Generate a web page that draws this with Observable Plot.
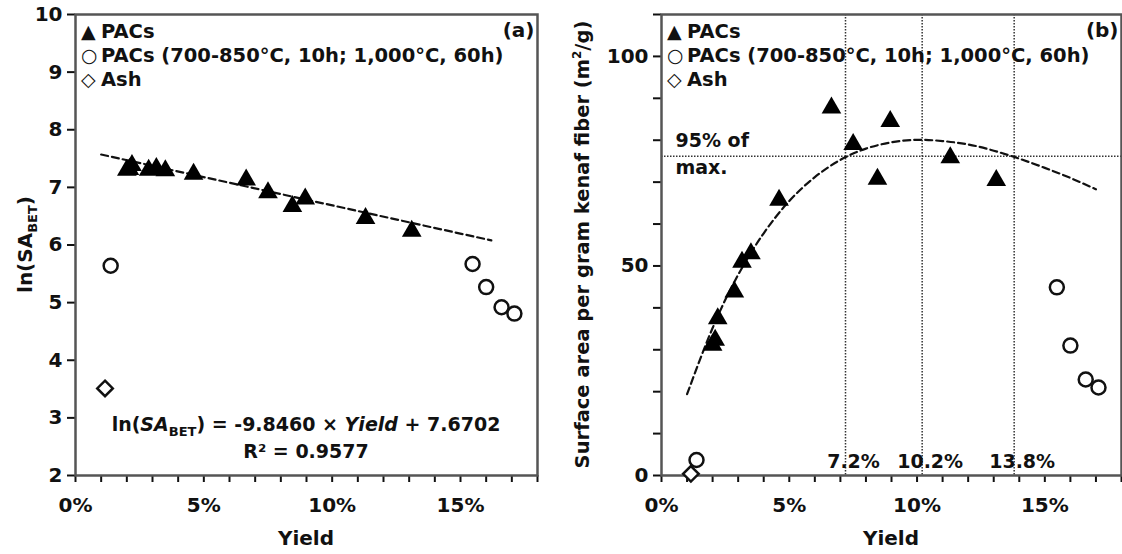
<!DOCTYPE html>
<html><head><meta charset="utf-8">
<script src="https://cdn.jsdelivr.net/npm/d3@7"></script>
<script src="https://cdn.jsdelivr.net/npm/@observablehq/plot@0.6"></script>
<style>
html,body{margin:0;padding:0;background:#fff;}
#wrap{display:flex;width:1122px;height:554px;overflow:hidden;}
#wrap svg{flex:none;}
</style></head><body><div id="wrap"></div>
<script>
// ---- data (yield in %) ----
const pacYield        = [2.0, 2.1, 2.2, 2.85, 3.15, 3.5, 4.6, 6.65, 7.5, 8.45, 8.95, 11.3, 13.1];
const pacLnSA         = [7.35, 7.36, 7.43, 7.35, 7.38, 7.34, 7.28, 7.18, 6.96, 6.72, 6.85, 6.51, 6.29];
const pacSAperFiber   = [31.8, 33.0, 38.1, 44.5, 51.6, 53.6, 66.4, 88.4, 79.7, 71.4, 85.2, 76.5, 71.1];
const longYield       = [1.37, 15.47, 16.0, 16.6, 17.1];
const longLnSA        = [5.64, 5.67, 5.27, 4.92, 4.81];
const longSAperFiber  = [3.7, 44.9, 31.0, 22.9, 21.0];
const ashYield        = [1.15];
const ashLnSA         = [3.51];
const ashSAperFiber   = [0.4];
const fitLineYield    = [1.0, 16.2];
const fitLineLnSA     = [7.57, 6.08];
const fitCurveYield   = [1, 2, 3, 4, 5, 6, 7, 8, 9, 10, 11, 12, 13, 14, 15, 16, 17];
const fitCurveSA      = [19.4, 35.2, 47.9, 57.8, 65.5, 71.2, 75.3, 78.0, 79.5, 80.1, 79.8, 79.0, 77.5, 75.6, 73.4, 71.0, 68.3];
const optimumYield    = [7.2, 10.2, 13.8];
const optimumLabels   = ["7.2%", "10.2%", "13.8%"];
const level95         = [76.2];
const xMajorTicks     = [0, 5, 10, 15];
const xMinorTicks     = [0,1,2,3,4,5,6,7,8,9,10,11,12,13,14,15,16,17,18];
const yTicksA         = [2,3,4,5,6,7,8,9,10];
const yTicksB         = [0,10,20,30,40,50,60,70,80,90,100,110];
const yLabelsB        = [0, 50, 100];

// ---- tables ----
const pacs  = pacYield.map((x, i) => ({x, a: pacLnSA[i], b: pacSAperFiber[i]}));
const longs = longYield.map((x, i) => ({x, a: longLnSA[i], b: longSAperFiber[i]}));
const ash   = ashYield.map((x, i) => ({x, a: ashLnSA[i], b: ashSAperFiber[i]}));
const fitLine  = fitLineYield.map((x, i) => ({x, y: fitLineLnSA[i]}));
const fitCurve = fitCurveYield.map((x, i) => ({x, y: fitCurveSA[i]}));

const FONT = "'DejaVu Sans', 'Liberation Sans', Arial, sans-serif";
const INK = "#111";
const W = 561, H = 554, MT = 14, MB = 79;

function panel(key, yDomain, yTicks, yFmt, ml, mr, extra) {
  return Plot.plot({
    width: W, height: H,
    marginLeft: ml, marginRight: mr, marginTop: MT, marginBottom: MB,
    style: {fontFamily: FONT, fontWeight: "bold", fontSize: "20px", color: INK, background: "white", overflow: "visible"},
    x: {domain: [0, 18]},
    y: {domain: yDomain},
    marks: [
      Plot.axisX({ticks: xMinorTicks, tickSize: 7, tickFormat: () => "", label: null, strokeWidth: 2}),
      Plot.axisX({ticks: xMajorTicks, tickSize: 0, tickPadding: 22, tickFormat: d => d + "%", label: null}),
      Plot.axisY({ticks: yTicks, tickSize: 8, tickPadding: 5, tickFormat: yFmt, label: null, strokeWidth: 2}),
      ...extra,
      Plot.frame({stroke: "#555", strokeWidth: 2.5}),
      Plot.dot(ash,   {x: "x", y: key, symbol: "diamond2", r: 7, stroke: INK, strokeWidth: 2.5, fill: "white"}),
      Plot.dot(longs, {x: "x", y: key, symbol: "circle", r: 7, stroke: INK, strokeWidth: 2.5, fill: "white"}),
      Plot.dot(pacs,  {x: "x", y: key, symbol: "triangle", r: 7.3, fill: "#000", dy: 2.8})
    ]
  });
}

const plotA = panel("a", [2, 10], yTicksA, d => d, 75, 24, [
  Plot.line(fitLine, {x: "x", y: "y", stroke: INK, strokeWidth: 2.2, strokeDasharray: "7,4"}),
  Plot.text(["(a)"], {text: d => d, frameAnchor: "top-right", lineAnchor: "top", dx: -3, dy: 8, fontSize: 20})
]);

const plotB = panel("b", [0, 110], yTicksB, d => yLabelsB.includes(d) ? d : "", 100, 1, [
  Plot.ruleX(optimumYield, {x: d => d, stroke: "#333", strokeWidth: 1.5, strokeDasharray: "1.5,1.5"}),
  Plot.ruleY(level95, {y: d => d, stroke: "#333", strokeWidth: 1.5, strokeDasharray: "1.5,1.5"}),
  Plot.line(fitCurve, {x: "x", y: "y", curve: "natural", stroke: INK, strokeWidth: 2.2, strokeDasharray: "7,4"}),
  Plot.text(optimumYield, {x: d => d, text: (d, i) => optimumLabels[i], frameAnchor: "bottom", lineAnchor: "bottom", dx: 8, dy: -8, fontSize: 19}),
  Plot.text(level95, {y: d => d, text: () => "95% of\nmax.", frameAnchor: "left", textAnchor: "start", lineAnchor: "middle", lineHeight: 1.4, dx: 14, dy: -4, fontSize: 19}),
  Plot.text(["(b)"], {text: d => d, frameAnchor: "top-right", lineAnchor: "top", dx: -3, dy: 8, fontSize: 20})
]);

const wrap = document.getElementById("wrap");
wrap.appendChild(plotA);
wrap.appendChild(plotB);

// ---- rich text: legend, axis titles, equation ----
function legend(svg, ml) {
  const g = d3.select(svg).append("g")
    .attr("font-family", FONT).attr("font-weight", "bold").attr("font-size", 19.5).attr("fill", INK)
    .attr("text-anchor", "start");
  const rows = [["\u25B2", "PACs"], ["\u25CB", "PACs (700-850\u00B0C, 10h; 1,000\u00B0C, 60h)"], ["\u25C7", "Ash"]];
  rows.forEach(([sym, label], i) => {
    const y = MT + 17 + i * 24;
    g.append("text").attr("x", ml + 6).attr("y", y).attr("dy", "0.35em").attr("font-size", 19).text(sym);
    g.append("text").attr("x", ml + 26).attr("y", y).attr("dy", "0.35em").text(label);
  });
}
legend(plotA, 75);
legend(plotB, 100);

function xTitle(svg, ml, mr) {
  d3.select(svg).append("text")
    .attr("x", (ml + W - mr) / 2).attr("y", H - 9)
    .attr("text-anchor", "middle").attr("font-family", FONT).attr("font-weight", "bold")
    .attr("font-size", 20).attr("fill", INK).text("Yield");
}
xTitle(plotA, 75, 24);
xTitle(plotB, 100, 1);

const cy = (MT + H - MB) / 2;
// y title (a)
{
  const t = d3.select(plotA).append("text")
    .attr("transform", `translate(25,${cy}) rotate(-90)`).attr("text-anchor", "middle").attr("dy", "0.35em")
    .attr("font-family", FONT).attr("font-weight", "bold").attr("font-size", 20).attr("fill", INK);
  t.append("tspan").text("ln(SA");
  t.append("tspan").attr("font-size", 13).attr("dy", 5).text("BET");
  t.append("tspan").attr("dy", -5).text(")");
}
// y title (b)
{
  const t = d3.select(plotB).append("text")
    .attr("transform", `translate(21,${cy}) rotate(-90)`).attr("text-anchor", "middle").attr("dy", "0.35em")
    .attr("font-family", FONT).attr("font-weight", "bold").attr("font-size", 19.5).attr("fill", INK);
  t.append("tspan").text("Surface area per gram kenaf fiber (m");
  t.append("tspan").attr("font-size", 12).attr("dy", -8).text("2");
  t.append("tspan").attr("dy", 8).text("/g)");
}
// equation (a)
{
  const g = d3.select(plotA).append("g")
    .attr("font-family", FONT).attr("font-weight", "bold").attr("font-size", 19).attr("fill", INK)
    .attr("text-anchor", "middle");
  const bottom = H - MB;
  const xc = (75 + W - 24) / 2;
  const t = g.append("text").attr("x", xc).attr("y", bottom - 51).attr("dy", "0.35em");
  t.append("tspan").text("ln(");
  t.append("tspan").attr("font-style", "italic").text("SA");
  t.append("tspan").attr("font-size", 13).attr("dy", 5).text("BET");
  t.append("tspan").attr("dy", -5).text(") = -9.8460 \u00D7 ");
  t.append("tspan").attr("font-style", "italic").text("Yield");
  t.append("tspan").text(" + 7.6702");
  g.append("text").attr("x", xc).attr("y", bottom - 24).attr("dy", "0.35em").text("R\u00B2 = 0.9577");
}
</script></body></html>
